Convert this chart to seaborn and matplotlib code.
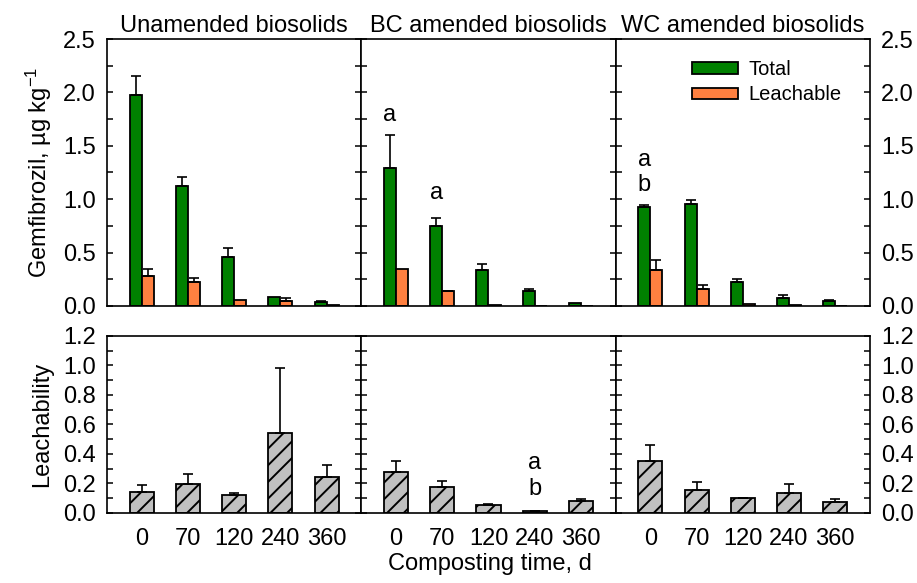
import numpy as np
import pandas as pd
import matplotlib
matplotlib.use("Agg")
import matplotlib.pyplot as plt
from matplotlib.ticker import MultipleLocator, FormatStrFormatter
from matplotlib.patches import Patch
import seaborn as sns

# ---- data ----
days = ["0", "70", "120", "240", "360"]
panel_titles = ["Unamended biosolids", "BC amended biosolids", "WC amended biosolids"]

# Gemfibrozil, ug/kg (total and leachable) with upper error
un_total = [1.98, 1.12, 0.46, 0.08, 0.037]
un_total_err = [0.17, 0.09, 0.08, 0.0, 0.008]
un_leach = [0.28, 0.22, 0.056, 0.047, 0.005]
un_leach_err = [0.07, 0.045, 0.0, 0.03, 0.0]

bc_total = [1.29, 0.745, 0.335, 0.143, 0.028]
bc_total_err = [0.31, 0.08, 0.055, 0.015, 0.0]
bc_leach = [0.345, 0.137, 0.012, 0.003, 0.002]
bc_leach_err = [0.0, 0.005, 0.0, 0.0, 0.0]

wc_total = [0.93, 0.955, 0.225, 0.075, 0.045]
wc_total_err = [0.02, 0.04, 0.03, 0.03, 0.008]
wc_leach = [0.335, 0.155, 0.02, 0.005, 0.003]
wc_leach_err = [0.1, 0.04, 0.0, 0.0, 0.0]

# Leachability
un_ratio = [0.142, 0.197, 0.122, 0.54, 0.242]
un_ratio_err = [0.05, 0.065, 0.016, 0.44, 0.08]
bc_ratio = [0.278, 0.178, 0.057, 0.012, 0.081]
bc_ratio_err = [0.075, 0.04, 0.006, 0.004, 0.016]
wc_ratio = [0.355, 0.156, 0.1, 0.136, 0.077]
wc_ratio_err = [0.105, 0.055, 0.004, 0.063, 0.016]

# letters: (row, panel, day index, y, text)
letters = [
    (0, 1, 0, 1.79, "a"),
    (0, 1, 1, 1.06, "a"),
    (0, 2, 0, 1.37, "a"),
    (0, 2, 0, 1.13, "b"),
    (1, 1, 3, 0.34, "a"),
    (1, 1, 3, 0.163, "b"),
]

totals = [un_total, bc_total, wc_total]
totals_err = [un_total_err, bc_total_err, wc_total_err]
leaches = [un_leach, bc_leach, wc_leach]
leaches_err = [un_leach_err, bc_leach_err, wc_leach_err]
ratios = [un_ratio, bc_ratio, wc_ratio]
ratios_err = [un_ratio_err, bc_ratio_err, wc_ratio_err]

green = "#008000"
orange = "#FF8040"
grey = "#C0C0C0"

sns.set_theme(style="ticks")
plt.rcParams["font.family"] = ["Liberation Sans", "DejaVu Sans"]
plt.rcParams["mathtext.default"] = "regular"
plt.rcParams["hatch.linewidth"] = 1.4
plt.rcParams["axes.linewidth"] = 1.2
for key in ["text.color", "axes.labelcolor", "xtick.color", "ytick.color", "axes.edgecolor"]:
    plt.rcParams[key] = "black"
FS = 17


def add_errors(ax, containers_vals):
    # containers_vals: list of (container, errors); bars sorted by x to match day order
    for cont, errs in containers_vals:
        bars = sorted(cont.patches, key=lambda b: b.get_x())
        xs = np.array([b.get_x() + b.get_width() / 2 for b in bars])
        ys = np.array([b.get_height() for b in bars])
        errs = np.array(errs)
        keep = errs > 0
        ax.errorbar(xs[keep], ys[keep], yerr=[np.zeros(keep.sum()), errs[keep]],
                    fmt="none", ecolor="black", elinewidth=1.2, capsize=3.8,
                    capthick=1.2, zorder=3)


fig = plt.figure(figsize=(9.17, 5.83), dpi=100)
gs = fig.add_gridspec(2, 3, left=0.1167, right=0.9487, top=0.9331, bottom=0.1201,
                      height_ratios=[267, 177], hspace=0.1351, wspace=0)
axes = np.empty((2, 3), dtype=object)

for col in range(3):
    # ---- top row: total vs leachable ----
    ax = fig.add_subplot(gs[0, col])
    axes[0, col] = ax
    df = pd.DataFrame({
        "day": days * 2,
        "value": totals[col] + leaches[col],
        "kind": ["Total"] * len(days) + ["Leachable"] * len(days),
    })
    sns.barplot(data=df, x="day", y="value", hue="kind", order=days,
                hue_order=["Total", "Leachable"],
                palette={"Total": green, "Leachable": orange},
                width=0.52, saturation=1, errorbar=None, edgecolor="black",
                linewidth=1.3, legend=False, ax=ax)
    add_errors(ax, [(ax.containers[0], totals_err[col]),
                    (ax.containers[1], leaches_err[col])])
    ax.set_ylim(0, 2.5)
    ax.yaxis.set_major_locator(MultipleLocator(0.5))
    ax.yaxis.set_minor_locator(MultipleLocator(0.25))
    ax.set_title(panel_titles[col], fontsize=FS, pad=5.0)

    # ---- bottom row: leachability ----
    ax2 = fig.add_subplot(gs[1, col])
    axes[1, col] = ax2
    df2 = pd.DataFrame({"day": days, "ratio": ratios[col]})
    sns.barplot(data=df2, x="day", y="ratio", order=days, color=grey,
                width=0.52, saturation=1, errorbar=None, edgecolor="black",
                linewidth=1.3, hatch="//", ax=ax2)
    add_errors(ax2, [(ax2.containers[0], ratios_err[col])])
    ax2.set_ylim(0, 1.2)
    ax2.yaxis.set_major_locator(MultipleLocator(0.2))
    ax2.yaxis.set_minor_locator(MultipleLocator(0.1))

for row in range(2):
    for col in range(3):
        ax = axes[row, col]
        ax.set_xlim(-0.75, 4.75)
        ax.set_xlabel("")
        ax.set_ylabel("")
        ax.yaxis.set_major_formatter(FormatStrFormatter("%.1f"))
        ax.tick_params(axis="y", which="both", direction="in", left=True, right=True,
                       labelleft=(col == 0), labelright=(col == 2),
                       labelsize=FS, pad=8.0, width=1.1)
        ax.tick_params(axis="y", which="major", length=4.5)
        ax.tick_params(axis="y", which="minor", length=4)
        ax.tick_params(axis="x", length=0, labelbottom=(row == 1), labelsize=FS, pad=11)
        for sp in ax.spines.values():
            sp.set_linewidth(1.2)
            sp.set_color("black")

# letters above bars
for row, col, idx, y, txt in letters:
    ax = axes[row, col]
    bars = sorted(ax.containers[0].patches, key=lambda b: b.get_x())
    b = bars[idx]
    ax.text(b.get_x() + b.get_width() / 2, y, txt, ha="center", va="center", fontsize=FS)

axes[0, 0].set_ylabel("Gemfibrozil, µg kg$^{-1}$", fontsize=FS)
axes[1, 0].set_ylabel("Leachability", fontsize=FS)
axes[0, 0].yaxis.set_label_coords(-0.21, 0.5)
axes[1, 0].yaxis.set_label_coords(-0.21, 0.5)

handles = [Patch(facecolor=green, edgecolor="black", linewidth=1.3, label="Total"),
           Patch(facecolor=orange, edgecolor="black", linewidth=1.3, label="Leachable")]
axes[0, 2].legend(handles=handles, loc="upper left", bbox_to_anchor=(0.30, 0.92),
                  frameon=False, fontsize=14.5, borderpad=0, borderaxespad=0,
                  handlelength=2.3, handleheight=0.5, handletextpad=0.5,
                  labelspacing=0.3)

fig.text(0.534, 0.032, "Composting time, d", ha="center", va="center", fontsize=FS)

fig.savefig("out.png", dpi=100)
